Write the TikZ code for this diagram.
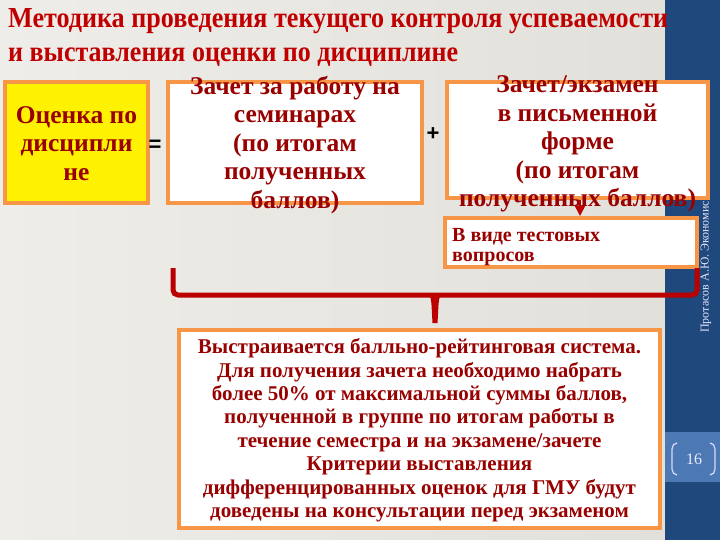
\documentclass[tikz,border=0pt]{standalone}
\usepackage{fontspec}
\setmainfont{Liberation Serif}
\setsansfont{Liberation Sans}
\usepackage{graphicx}
\usetikzlibrary{arrows.meta}

\definecolor{slideblue}{HTML}{1F487C}
\definecolor{bandblue}{HTML}{4C79B4}
\definecolor{boxorange}{HTML}{F79646}
\definecolor{titlered}{HTML}{C00000}
\definecolor{textred}{HTML}{990000}
\definecolor{bracered}{HTML}{BA0000}
\definecolor{bgleft}{HTML}{EEEDE9}
\definecolor{bgright}{HTML}{E2E0DA}

\tikzset{
  box/.style={draw=boxorange, line width=4pt, fill=white, inner sep=0pt},
  boxtxt/.style={text=textred, align=center, inner sep=0pt, font=\bfseries\fontsize{25.5}{28.5}\selectfont},
  smalltxt/.style={text=textred, inner sep=0pt, font=\bfseries\fontsize{21}{23.4}\selectfont},
  sign/.style={inner sep=0pt, font=\sffamily\bfseries\fontsize{22}{24}\selectfont},
  brace/.style={draw=bracered, line width=5pt, rounded corners=5pt}
}

\begin{document}
\begin{tikzpicture}[x=1pt, y=-1pt]
\useasboundingbox (0,0) rectangle (720,540);
% slide background
\shade[left color=bgleft, right color=bgright] (0,0) rectangle (665,540);
\fill[slideblue] (665,0) rectangle (720,540);
\fill[bandblue] (665,432) rectangle (720,482);

% title
\node[anchor=base west, inner sep=0pt, text=titlered] (title1) at (8,28)
  {\resizebox{660pt}{\height}{\bfseries\fontsize{29}{34}\selectfont Методика проведения текущего контроля успеваемости}};
\node[anchor=base west, inner sep=0pt, text=titlered] (title2) at (8,62)
  {\resizebox{450pt}{\height}{\bfseries\fontsize{29}{34}\selectfont и выставления оценки по дисциплине}};

% author, page number
\node[rotate=90, anchor=west, inner sep=0pt, text=white!90!blue, font=\fontsize{12}{14}\selectfont] (author) at (706,333) {Протасов А.Ю. Экономист};
\node[text=white!92!blue, inner sep=0pt, font=\fontsize{16}{18}\selectfont] (pagenum) at (694,459) {16};
\draw[white!85!blue, line width=1.2pt] (677,443) to[out=180,in=90] (672,449) -- (672,469) to[out=-90,in=180] (677,475);
\draw[white!85!blue, line width=1.2pt] (710,443) to[out=0,in=90] (715,449) -- (715,469) to[out=-90,in=0] (710,475);

% boxes
\node[box, fill=yellow, minimum width=143pt, minimum height=121pt] (grade) at (76.5,142.5) {};
\node[box, minimum width=254pt, minimum height=121pt] (seminar) at (295,142.5) {};
\node[box, minimum width=261pt, minimum height=116pt] (exam) at (577.5,140) {};
\node[box, minimum width=252pt, minimum height=49pt] (tests) at (571,242.5) {};
\node[box, minimum width=481pt, minimum height=198pt] (rating) at (419.5,429) {};

\node[boxtxt] (gradetxt) at (76.5,143.4) {Оценка по\\дисципли\\не};
\node[sign] (eq) at (155,146) {=};
\node[boxtxt] (seminartxt) at (295,145) {Зачет за работу на\\семинарах\\(по итогам\\полученных\\баллов)};
\node[sign] (plus) at (433,134) {+};
\node[boxtxt] (examtxt) at (577.5,144.2) {Зачет/экзамен\\в письменной\\форме\\(по итогам\\полученных баллов)};
\node[smalltxt, align=left, anchor=north west, font=\bfseries\fontsize{20}{20}\selectfont] (teststxt) at (452,228.5) {В виде тестовых\\вопросов};
\node[smalltxt, align=center] (ratingtxt) at (419.5,430.3) {Выстраивается балльно-рейтинговая система.\\Для получения зачета необходимо набрать\\более 50\% от максимальной суммы баллов,\\полученной в группе по итогам работы в\\течение семестра и на экзамене/зачете\\Критерии выставления\\дифференцированных оценок для ГМУ будут\\доведены на консультации перед экзаменом};

% arrow to tests
\draw[bracered, line width=1.5pt, -{Triangle[width=10pt,length=10pt]}] ([xshift=2.5pt]exam.south) -- ([xshift=2.5pt]exam.south |- tests.north);

% bracket
\coordinate (brL) at (173,268);
\coordinate (brR) at (697,268);
\coordinate (brC) at (435,295);
\coordinate (stemEnd) at (435,323);
\draw[brace] (brL) |- (brC) -| (brR);
\fill[bracered] ([xshift=-9pt]brC) .. controls ([xshift=-4pt]brC) and ([xshift=-4pt,yshift=-4pt]brC) .. ([xshift=-3.5pt,yshift=-10pt]brC)
  -- ([xshift=-2.5pt]stemEnd) -- ([xshift=2.5pt]stemEnd) -- ([xshift=3.5pt,yshift=-10pt]brC)
  .. controls ([xshift=4pt,yshift=-4pt]brC) and ([xshift=4pt]brC) .. ([xshift=9pt]brC) -- cycle;
\end{tikzpicture}
\end{document}
